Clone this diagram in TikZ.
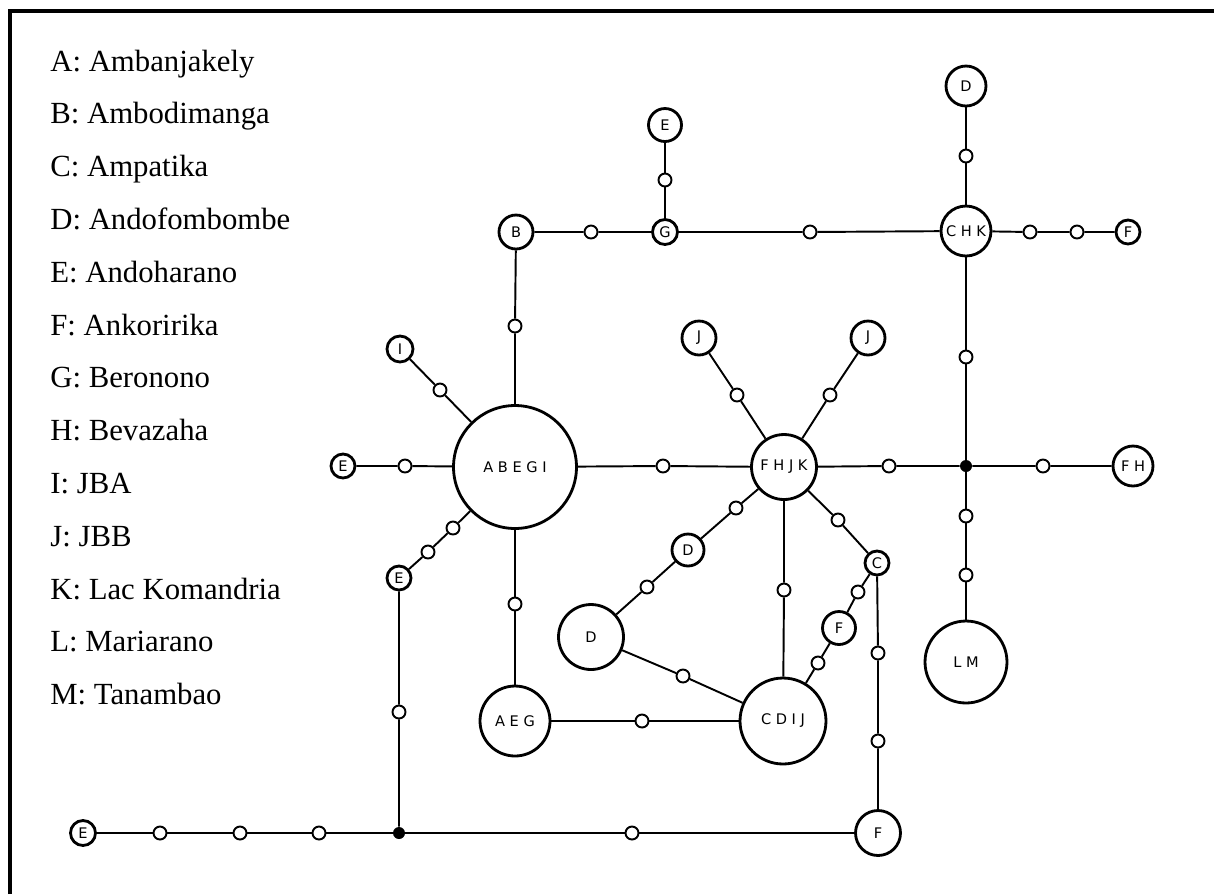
\documentclass[tikz,border=0pt]{standalone}
\usepackage{fontspec}
\setmainfont{Liberation Serif}
\newfontfamily\haplofont{DejaVu Sans}
\usetikzlibrary{positioning}

\begin{document}
\begin{tikzpicture}[x=0.02cm, y=-0.02cm,
  hap/.style={circle, draw, line width=1.6pt, fill=white, inner sep=0pt,
    font=\haplofont\fontsize{8.3}{10}\selectfont},
  mv/.style={circle, draw, line width=1.1pt, fill=white, inner sep=0pt, minimum size=0.26cm},
  junc/.style={circle, fill=black, inner sep=0pt, minimum size=0.24cm},
  link/.style={line width=1.1pt}]
  \useasboundingbox (0,0) rectangle (1214,894);

  % frame (top and left only)
  \draw[line width=2pt] (10,894) -- (10,11) -- (1214,11);

  % legend
  \foreach \lab [count=\i from 0] in {A: Ambanjakely, B: Ambodimanga, C: Ampatika,
      D: Andofombombe, E: Andoharano, F: Ankoririka, G: Beronono, H: Bevazaha,
      I: JBA, J: JBB, K: Lac Komandria, L: Mariarano, M: Tanambao}
    \node[anchor=base west, inner sep=0pt, font=\fontsize{17.5}{21}\selectfont]
      (leg\i) at (50, 71+52.8*\i) {\lab};

  % haplotypes
  \node[hap, minimum size=2.46cm] (abegi) at (515,467) {A B E G I};
  \node[hap, minimum size=1.3cm] (fhjk) at (784,467) {F H J K};
  \node[hap, minimum size=1.0cm] (chk) at (966,231) {C H K};
  \node[hap, minimum size=1.72cm] (cdij) at (783,721) {C D I J};
  \node[hap, minimum size=1.4cm] (aeg) at (515,721) {A E G};
  \node[hap, minimum size=1.64cm] (lm) at (966,662) {L M};
  \node[hap, minimum size=1.3cm] (dbig) at (591,637) {D};
  \node[hap, minimum size=0.8cm] (fh) at (1133,466) {F H};
  \node[hap, minimum size=0.8cm] (dtop) at (966,86) {D};
  \node[hap, minimum size=0.64cm] (dmid) at (688,550) {D};
  \node[hap, minimum size=0.66cm] (fmid) at (839,628) {F};
  \node[hap, minimum size=0.9cm] (fbot) at (878,833) {F};
  \node[hap, minimum size=0.68cm] (b) at (516,232) {B};
  \node[hap, minimum size=0.66cm] (etop) at (665,125) {E};
  \node[hap, minimum size=0.68cm] (jl) at (699,338) {J};
  \node[hap, minimum size=0.68cm] (jr) at (868,338) {J};
  \node[hap, minimum size=0.5cm] (g) at (665,232) {G};
  \node[hap, minimum size=0.48cm] (fr) at (1128,232) {F};
  \node[hap, minimum size=0.52cm] (i) at (400,349) {I};
  \node[hap, minimum size=0.48cm] (el) at (343,466) {E};
  \node[hap, minimum size=0.48cm] (em) at (399,578) {E};
  \node[hap, minimum size=0.48cm] (c) at (877,563) {C};
  \node[hap, minimum size=0.5cm] (ebot) at (83,833) {E};

  % median vectors
  \node[junc] (x1) at (966,466) {};
  \node[junc] (x2) at (399,833) {};

  % mutation steps
  \foreach \n/\p in {m1/{(591,232)}, m2/{(665,180)}, m3/{(810,232)}, m4/{(966,156)},
      m5/{(1030,232)}, m6/{(1077,232)}, m7/{(515,326)}, m8/{(440,390)},
      m9/{(405,466)}, m10/{(663,466)}, m11/{(737,395)}, m12/{(830,395)},
      m13/{(889,466)}, m14/{(1043,466)}, m15/{(966,357)}, m16/{(966,516)},
      m17/{(966,575)}, m18/{(453,528)}, m19/{(428,552)}, m20/{(399,712)},
      m21/{(515,604)}, m22/{(642,721)}, m23/{(647,587)}, m24/{(736,508)},
      m25/{(683,676)}, m26/{(784,590)}, m27/{(838,520)}, m28/{(858,592)},
      m29/{(818,663)}, m30/{(878,653)}, m31/{(878,741)}, m32/{(160,833)},
      m33/{(240,833)}, m34/{(319,833)}, m35/{(632,833)}}
    \node[mv] (\n) at \p {};

  % links
  \draw[link] (b) -- (m1) -- (g) -- (m3) -- (chk) -- (m5) -- (m6) -- (fr);
  \draw[link] (g) -- (m2) -- (etop);
  \draw[link] (chk) -- (m4) -- (dtop);
  \draw[link] (b) -- (m7) -- (abegi);
  \draw[link] (i) -- (m8) -- (abegi);
  \draw[link] (el) -- (m9) -- (abegi) -- (m10) -- (fhjk);
  \draw[link] (jl) -- (m11) -- (fhjk);
  \draw[link] (jr) -- (m12) -- (fhjk);
  \draw[link] (fhjk) -- (m13) -- (x1) -- (m14) -- (fh);
  \draw[link] (chk) -- (m15) -- (x1) -- (m16) -- (m17) -- (lm);
  \draw[link] (abegi) -- (m18) -- (m19) -- (em) -- (m20) -- (x2);
  \draw[link] (abegi) -- (m21) -- (aeg) -- (m22) -- (cdij);
  \draw[link] (dbig) -- (m23) -- (dmid) -- (m24) -- (fhjk);
  \draw[link] (dbig) -- (m25) -- (cdij);
  \draw[link] (fhjk) -- (m26) -- (cdij);
  \draw[link] (fhjk) -- (m27) -- (c) -- (m28) -- (fmid) -- (m29) -- (cdij);
  \draw[link] (c) -- (m30) -- (m31) -- (fbot);
  \draw[link] (ebot) -- (m32) -- (m33) -- (m34) -- (x2) -- (m35) -- (fbot);
\end{tikzpicture}
\end{document}
